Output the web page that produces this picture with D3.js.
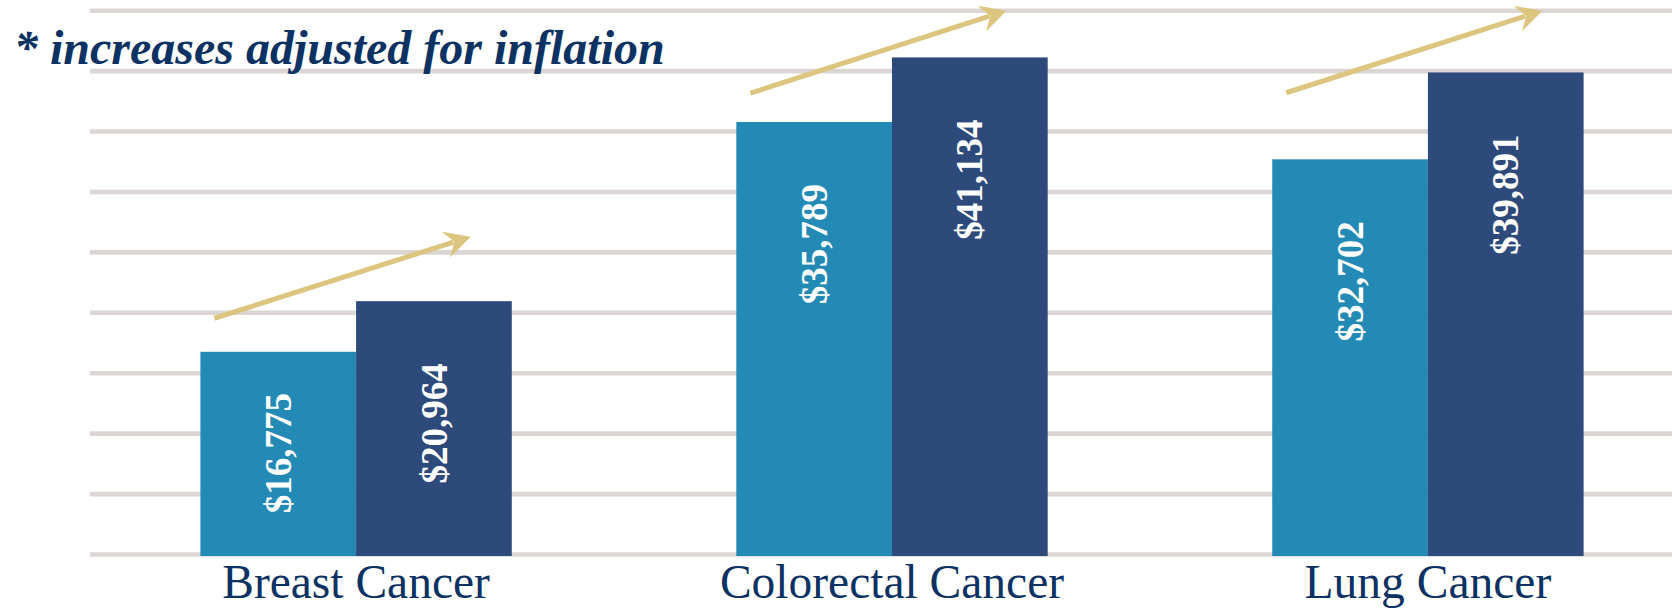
<!DOCTYPE html>
<html>
<head>
<meta charset="utf-8">
<script src="https://cdn.jsdelivr.net/npm/d3@7"></script>
<style>
  html, body { margin: 0; padding: 0; background: #ffffff; }
  svg { display: block; }
</style>
</head>
<body>
<svg id="chart" width="1672" height="610"></svg>
<script>
// ---- data ----
const categories = ["Breast Cancer", "Colorectal Cancer", "Lung Cancer"];
const seriesNames = ["Before", "After"];
const seriesBefore = [16775, 35789, 32702];
const seriesAfter = [20964, 41134, 39891];
const gridValues = [0, 5000, 10000, 15000, 20000, 25000, 30000, 35000, 40000, 45000];
// trend arrows (annotation levels in $)
const arrowFrom = [19550, 38170, 38210];
const arrowTo = [26300, 45000, 45000];
const noteText = "* increases adjusted for inflation";

// ---- styles ----
const W = 1672, H = 610;
const colors = ["#238ab5", "#2d4a7b"];
const gridColor = "#dbd6d4";
const arrowColor = "#dcc57f";
const navy = "#0c3263";
const serif = "'Liberation Serif', 'Times New Roman', serif";

const svg = d3.select("#chart");

const x = d3.scaleBand().domain(categories).range([90, 1694]).paddingInner(0.419).paddingOuter(0.206);
const xs = d3.scaleBand().domain(seriesNames).range([0, x.bandwidth()]);
const y = d3.scaleLinear().domain([0, 45000]).range([554.5, 10.7]);

// gridlines
svg.append("g").selectAll("line").data(gridValues).join("line")
  .attr("x1", 90).attr("x2", W)
  .attr("y1", d => y(d)).attr("y2", d => y(d))
  .attr("stroke", gridColor).attr("stroke-width", 4.6);

// bars
const rows = categories.map((c, i) => ({ cat: c, vals: [seriesBefore[i], seriesAfter[i]] }));
const groups = svg.append("g").selectAll("g").data(rows).join("g")
  .attr("transform", d => `translate(${x(d.cat)},0)`);

groups.selectAll("rect").data(d => d.vals.map((v, j) => ({ v, s: seriesNames[j], j }))).join("rect")
  .attr("x", d => xs(d.s))
  .attr("width", xs.bandwidth())
  .attr("y", d => y(d.v))
  .attr("height", d => y(0) - y(d.v) + 1.5)
  .attr("fill", d => colors[d.j]);

// value labels (rotated)
groups.selectAll("text.val").data(d => d.vals.map((v, j) => ({ v, s: seriesNames[j], j }))).join("text")
  .attr("class", "val")
  .attr("font-family", serif)
  .attr("font-weight", "bold")
  .attr("font-size", 37)
  .attr("fill", "#ffffff")
  .attr("text-anchor", "end")
  .attr("dy", "0.34em")
  .text(d => "$" + d3.format(",")(d.v))
  .each(function(d) {
    const len = this.getComputedTextLength();
    const top = y(d.v);
    const mid = (top + y(0)) / 2;
    const endY = Math.min(top + 62, mid - len / 2);
    const cx = xs(d.s) + xs.bandwidth() / 2;
    d3.select(this).attr("transform", `translate(${cx},${endY}) rotate(-90)`);
  });

// category labels
svg.append("g").selectAll("text").data(categories).join("text")
  .attr("x", d => x(d) + x.bandwidth() / 2)
  .attr("y", 598)
  .attr("text-anchor", "middle")
  .attr("font-family", serif)
  .attr("font-size", 47.5)
  .attr("fill", navy)
  .text(d => d);

// arrows
const arrowG = svg.append("g");
categories.forEach((c, i) => {
  const x0 = x(c) + 0.045 * x.bandwidth();
  const x1 = x(c) + 0.868 * x.bandwidth();
  const y0 = y(arrowFrom[i]);
  const y1 = y(arrowTo[i]);
  const ang = Math.atan2(y1 - y0, x1 - x0);
  const ux = Math.cos(ang), uy = Math.sin(ang);
  arrowG.append("line")
    .attr("x1", x0).attr("y1", y0)
    .attr("x2", x1 - 18 * ux).attr("y2", y1 - 18 * uy)
    .attr("stroke", arrowColor).attr("stroke-width", 5);
  const deg = ang * 180 / Math.PI;
  arrowG.append("path")
    .attr("d", "M0,0 L-26,-13.5 L-17,0 L-26,13.5 Z")
    .attr("fill", arrowColor)
    .attr("transform", `translate(${x1},${y1}) rotate(${deg})`);
});

// note
svg.append("text")
  .attr("x", 14).attr("y", 64)
  .attr("font-family", serif)
  .attr("font-weight", "bold")
  .attr("font-style", "italic")
  .attr("font-size", 48)
  .attr("fill", navy)
  .text(noteText);
</script>
</body>
</html>
